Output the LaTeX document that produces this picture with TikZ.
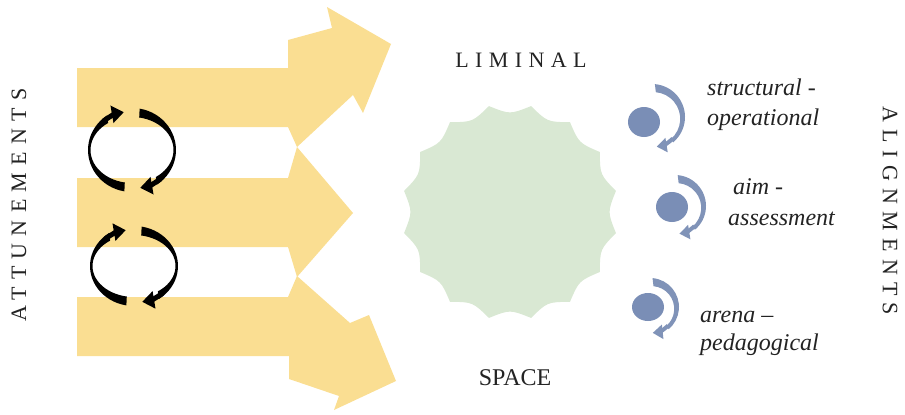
\documentclass[tikz,border=0pt]{standalone}
\usepackage{fontspec}
\setmainfont{Liberation Serif}
\newfontfamily\spacedserif[LetterSpace=33]{Liberation Serif}
\newfontfamily\spacedserifb[LetterSpace=29]{Liberation Serif}
\usetikzlibrary{arrows.meta,calc}
\definecolor{ycol}{RGB}{250,222,146}
\definecolor{gcol}{RGB}{217,232,211}
\definecolor{bcol}{RGB}{128,147,184}
\definecolor{ccol}{RGB}{122,142,182}
\definecolor{tcol}{RGB}{35,35,35}
\begin{document}
\begin{tikzpicture}[x=1pt,y=-1pt,
  yarrow/.style={fill=ycol},
  spaced/.style={font=\fontsize{22}{26}\selectfont\spacedserif, text=tcol, inner sep=0pt},
  spacedb/.style={font=\fontsize{22}{26}\selectfont\spacedserifb, text=tcol, inner sep=0pt},
  plain/.style={font=\fontsize{24}{28}\selectfont, text=tcol, inner sep=0pt},
  lab/.style={font=\fontsize{24}{28}\selectfont\itshape, text=tcol, anchor=base west, inner sep=0pt},
  blk/.style={fill=black},
  blkhead/.style={draw=black, line width=5pt, -{Triangle[length=12pt,width=17pt]}},
  bluehead/.style={draw=bcol, line width=4pt, -{Triangle[length=10pt,width=14pt]}},
]
\useasboundingbox (0,0) rectangle (905,415);

% yellow arrows
\fill[yarrow] (77,68) -- (288,68) -- (288,40) -- (332,28) -- (327,7) -- (391,44) -- (363,113) -- (353,95) -- (297,147) -- (288,127) -- (77,127) -- cycle;
\fill[yarrow] (77,178) -- (288,178) -- (297,147) -- (353,213) -- (297,277) -- (288,247) -- (77,247) -- cycle;
\fill[yarrow] (77,297) -- (288,297) -- (297,276) -- (350,323) -- (369,315) -- (396,381) -- (334,410) -- (339,396) -- (289,379) -- (289,356) -- (77,356) -- cycle;

% black cycle arrows, pair 1
\coordinate (p1) at (132,150);
\fill[blk] ($(p1)+(100:44 and 42)$) arc[start angle=100, end angle=235, x radius=44, y radius=42]
  -- ($(p1)+(235:41.5 and 33)$) arc[start angle=235, end angle=100, x radius=41.5, y radius=33] -- cycle;
\draw[blkhead] ($(p1)+(228:43 and 38.5)$) arc[start angle=228, end angle=259, x radius=43, y radius=38.5];
\fill[blk] ($(p1)+(280:44 and 42)$) arc[start angle=280, end angle=415, x radius=44, y radius=42]
  -- ($(p1)+(415:41.5 and 33)$) arc[start angle=415, end angle=280, x radius=41.5, y radius=33] -- cycle;
\draw[blkhead] ($(p1)+(408:43 and 38.5)$) arc[start angle=408, end angle=439, x radius=43, y radius=38.5];

% black cycle arrows, pair 2
\coordinate (p2) at (134,266);
\fill[blk] ($(p2)+(100:44 and 40)$) arc[start angle=100, end angle=235, x radius=44, y radius=40]
  -- ($(p2)+(235:41.5 and 31)$) arc[start angle=235, end angle=100, x radius=41.5, y radius=31] -- cycle;
\draw[blkhead] ($(p2)+(228:43 and 36.5)$) arc[start angle=228, end angle=259, x radius=43, y radius=36.5];
\fill[blk] ($(p2)+(280:44 and 40)$) arc[start angle=280, end angle=415, x radius=44, y radius=40]
  -- ($(p2)+(415:41.5 and 31)$) arc[start angle=415, end angle=280, x radius=41.5, y radius=31] -- cycle;
\draw[blkhead] ($(p2)+(408:43 and 36.5)$) arc[start angle=408, end angle=439, x radius=43, y radius=36.5];

% liminal star
\coordinate (sc) at (510,212);
\fill[gcol] ($(sc)+(11.25:108)$)
  \foreach \i in {0,...,15} { .. controls ($(sc)+(22.5*\i+22.5:97.5)$) .. ($(sc)+(22.5*\i+33.75:108)$) } -- cycle;

% texts
\node[spacedb] (liminal) at (521,60) {LIMINAL};
\node[plain] (space) at (515,378) {SPACE};
\node[spaced, rotate=90] (att) at (19,205) {ATTUNEMENTS};
\node[spaced, rotate=-90] (ali) at (890,211) {ALIGNMENTS};

% blue items
\fill[ccol] (644,122) ellipse [x radius=16, y radius=15];
\coordinate (c1) at (652,117);
\fill[bcol] ($(c1)+(-85:33)$) arc[start angle=-85, end angle=50, radius=33]
  -- ($(c1)+(1.5,1.8)+(50:26.7)$) arc[start angle=50, end angle=-85, radius=26.7] -- cycle;
\draw[bluehead] ($(c1)+(46:30)$) arc[start angle=46, end angle=81, radius=30];

\fill[ccol] (672,207) ellipse [x radius=16, y radius=15];
\coordinate (c2) at (675,206);
\fill[bcol] ($(c2)+(-85:31)$) arc[start angle=-85, end angle=50, radius=31]
  -- ($(c2)+(1.5,1.8)+(50:24.7)$) arc[start angle=50, end angle=-85, radius=24.7] -- cycle;
\draw[bluehead] ($(c2)+(46:28)$) arc[start angle=46, end angle=81, radius=28];

\fill[ccol] (648,307) ellipse [x radius=16, y radius=14];
\coordinate (c3) at (650,307);
\fill[bcol] ($(c3)+(-85:29)$) arc[start angle=-85, end angle=50, radius=29]
  -- ($(c3)+(1.5,1.8)+(50:22.7)$) arc[start angle=50, end angle=-85, radius=22.7] -- cycle;
\draw[bluehead] ($(c3)+(46:26)$) arc[start angle=46, end angle=84, radius=26];

\node[lab] (l1a) at (707,95) {structural -};
\node[lab] (l1b) at (707,125) {operational};
\node[lab] (l2a) at (733,194) {aim -};
\node[lab] (l2b) at (728,225) {assessment};
\node[lab] (l3a) at (700,322) {arena –};
\node[lab] (l3b) at (700,350) {pedagogical};
\end{tikzpicture}
\end{document}
